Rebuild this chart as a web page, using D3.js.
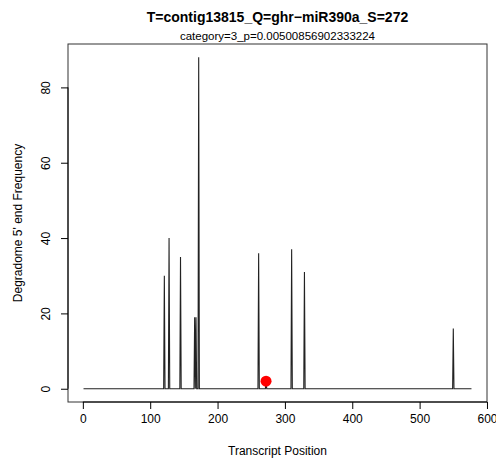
<!DOCTYPE html>
<html>
<head>
<meta charset="utf-8">
<script src="https://cdn.jsdelivr.net/npm/d3@7"></script>
<style>
  body { margin: 0; background: #fff; }
  text { font-family: "Liberation Sans", Arial, sans-serif; fill: #000; }
</style>
</head>
<body>
<div id="chart"></div>
<script>
// Data: transcript positions with degradome reads (all other positions are 0)
let transcriptLength = 577;
let peakPositions = [121, 128, 145, 166, 168, 172, 261, 272, 310, 329, 550];
let peakCounts    = [30, 40, 35, 19, 19, 88, 36, 2, 37, 31, 16];
let sitePosition = 272;
let siteCount = 2;
let xTicks = [0, 100, 200, 300, 400, 500, 600];
let yTicks = [0, 20, 40, 60, 80];

let titleText = 'T=contig13815_Q=ghr\u2212miR390a_S=272';
let subText = 'category=3_p=0.00500856902333224';

// SVG setup
let svgWidth = 496;
let svgHeight = 462;
let margin = { top: 44, right: 9, bottom: 60, left: 68 };
let width = svgWidth - margin.left - margin.right;
let height = svgHeight - margin.top - margin.bottom;

let svg = d3.select('#chart').append('svg')
  .attr('width', svgWidth)
  .attr('height', svgHeight);

let chartGroup = svg.append('g')
  .attr('transform', `translate(${margin.left}, ${margin.top})`);

// full series along the transcript
let series = d3.range(1, transcriptLength + 1).map(p => {
  let i = peakPositions.indexOf(p);
  return { pos: p, count: i >= 0 ? peakCounts[i] : 0 };
});

// R style 4% padding on both axes
let xMin = 1, xMax = transcriptLength;
let xPad = (xMax - xMin) * 0.04;
let yMax = d3.max(peakCounts);
let yPad = yMax * 0.04;

let xScale = d3.scaleLinear()
  .domain([xMin - xPad, xMax + xPad])
  .range([0, width]);

let yScale = d3.scaleLinear()
  .domain([-yPad, yMax + yPad])
  .range([height, 0]);

// plot box
chartGroup.append('rect')
  .attr('x', 0).attr('y', 0)
  .attr('width', width).attr('height', height)
  .attr('fill', 'none')
  .attr('stroke', '#333')
  .attr('stroke-width', 1);

// line
let line = d3.line()
  .x(d => xScale(d.pos))
  .y(d => yScale(d.count));

chartGroup.append('path')
  .datum(series)
  .attr('d', line)
  .attr('fill', 'none')
  .attr('stroke', '#222')
  .attr('stroke-width', 1.1);

// cleavage site point
chartGroup.append('circle')
  .attr('cx', xScale(sitePosition))
  .attr('cy', yScale(siteCount))
  .attr('r', 5.5)
  .attr('fill', '#ff0000');

// x axis
let xAxis = chartGroup.append('g')
  .attr('transform', `translate(0, ${height})`)
  .call(d3.axisBottom(xScale).tickValues(xTicks).tickSize(7).tickPadding(5).tickSizeOuter(0));
xAxis.select('.domain')
  .attr('d', `M${xScale(xTicks[0])},0H${xScale(xTicks[xTicks.length - 1])}`);
xAxis.selectAll('text').attr('font-size', 12).attr('font-family', '"Liberation Sans", Arial, sans-serif');

// y axis
let yAxis = chartGroup.append('g')
  .call(d3.axisLeft(yScale).tickValues(yTicks).tickSize(7).tickPadding(0).tickSizeOuter(0));
yAxis.select('.domain')
  .attr('d', `M0,${yScale(yTicks[0])}V${yScale(yTicks[yTicks.length - 1])}`);
yAxis.selectAll('.tick text')
  .attr('x', 0).attr('dy', 0)
  .attr('transform', 'translate(-21,0) rotate(-90)')
  .attr('text-anchor', 'middle')
  .attr('dominant-baseline', 'middle')
  .attr('font-size', 12)
  .attr('font-family', '"Liberation Sans", Arial, sans-serif');

// titles
svg.append('text')
  .attr('x', margin.left + width / 2)
  .attr('y', 22)
  .attr('text-anchor', 'middle')
  .attr('font-size', 14)
  .attr('font-weight', 'bold')
  .text(titleText);

svg.append('text')
  .attr('x', margin.left + width / 2)
  .attr('y', 40)
  .attr('text-anchor', 'middle')
  .attr('font-size', 11.5)
  .text(subText);

svg.append('text')
  .attr('x', margin.left + width / 2)
  .attr('y', 455)
  .attr('text-anchor', 'middle')
  .attr('font-size', 12)
  .text('Transcript Position');

svg.append('text')
  .attr('transform', `translate(22, ${margin.top + height / 2}) rotate(-90)`)
  .attr('text-anchor', 'middle')
  .attr('font-size', 12)
  .text("Degradome 5' end Frequency");
</script>
</body>
</html>
